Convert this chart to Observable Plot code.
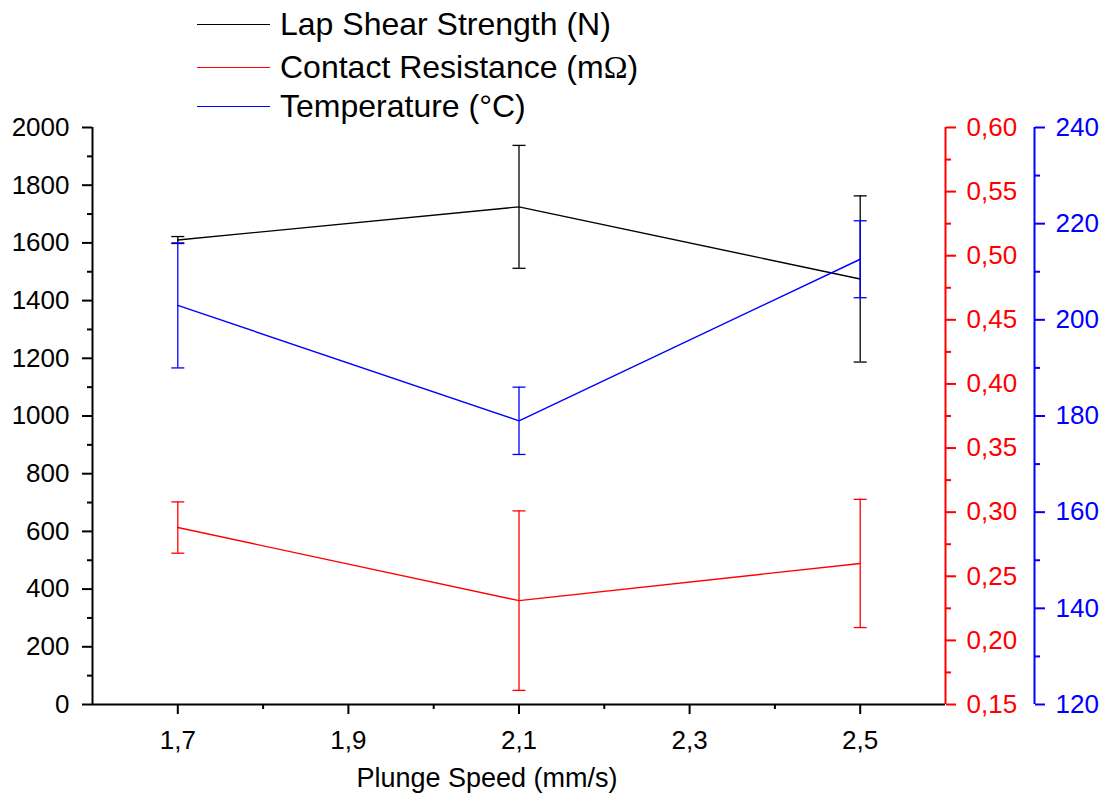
<!DOCTYPE html>
<html><head><meta charset="utf-8">
<script src="https://cdn.jsdelivr.net/npm/d3@7"></script>
<script src="https://cdn.jsdelivr.net/npm/@observablehq/plot@0.6"></script>
<style>
body{margin:0;background:#fff;font-family:"Liberation Sans",Arial,sans-serif;}
#wrap{position:relative;width:1104px;height:800px;overflow:hidden;background:#fff;}
#legend{position:absolute;left:0;top:0;width:1104px;height:130px;z-index:2;pointer-events:none;}
.row{position:absolute;left:197px;display:flex;align-items:center;font-size:32px;height:40px;color:#000;white-space:nowrap;}
.sw{width:73px;height:0;border-top:1.5px solid;margin-right:10px;}
.serif{font-family:"Liberation Serif","Times New Roman",serif;}
#chart{position:absolute;left:0;top:115px;z-index:1;}
</style></head><body>
<div id="wrap"><div id="legend"></div><div id="chart"></div></div>
<script>
// ---- data ----
const speeds = [1.7, 2.1, 2.5];
const shearMean = [1610, 1725, 1475];
const shearErr = [12, 213, 288];
const resistMean = [0.288, 0.231, 0.260];
const resistErr = [0.020, 0.070, 0.050];
const tempMean = [203, 179, 212.6];
const tempErr = [13, 7, 8];
const seriesNames = ["Lap Shear Strength (N)", "Contact Resistance (mΩ)", "Temperature (°C)"];
const seriesColors = ["#000000", "#ff0000", "#0000ff"];
const xTitle = "Plunge Speed (mm/s)";
const xTicks = [1.7, 1.9, 2.1, 2.3, 2.5];
const xMinor = [1.8, 2.0, 2.2, 2.4];
const leftTicks = [0, 200, 400, 600, 800, 1000, 1200, 1400, 1600, 1800, 2000];
const leftMinor = [100, 300, 500, 700, 900, 1100, 1300, 1500, 1700, 1900];
const redTicks = [0.15, 0.20, 0.25, 0.30, 0.35, 0.40, 0.45, 0.50, 0.55, 0.60];
const redMinor = [0.175, 0.225, 0.275, 0.325, 0.375, 0.425, 0.475, 0.525, 0.575];
const blueTicks = [120, 140, 160, 180, 200, 220, 240];
const blueMinor = [130, 150, 170, 190, 210, 230];

// ---- scales for secondary axes (mapped onto the left axis range) ----
const leftDomain = [0, 2000];
const redDomain = [0.15, 0.60];
const blueDomain = [120, 240];
const redToLeft = d3.scaleLinear(redDomain, leftDomain);
const blueToLeft = d3.scaleLinear(blueDomain, leftDomain);
const ident = d3.scaleLinear(leftDomain, leftDomain);

const loc = d3.formatLocale({decimal: ",", thousands: "", grouping: [3], currency: ["", ""]});
const f1 = loc.format(".1f"), f2 = loc.format(".2f"), f0 = loc.format(".0f");

const series = [
  {mean: shearMean, err: shearErr, conv: ident},
  {mean: resistMean, err: resistErr, conv: redToLeft},
  {mean: tempMean, err: tempErr, conv: blueToLeft}
].map((s, i) => ({
  name: seriesNames[i], color: seriesColors[i],
  rows: speeds.map((x, j) => ({
    x,
    y: s.conv(s.mean[j]),
    y1: s.conv(s.mean[j] - s.err[j]),
    y2: s.conv(s.mean[j] + s.err[j])
  }))
}));

// legend
const legend = document.getElementById("legend");
const rowCenters = [24, 67, 106];
series.forEach((s, i) => {
  const r = document.createElement("div");
  r.className = "row";
  r.style.top = (rowCenters[i] - 20) + "px";
  const sw = document.createElement("span");
  sw.className = "sw";
  sw.style.borderTopColor = s.color;
  r.appendChild(sw);
  const t = document.createElement("span");
  t.innerHTML = s.name.replace("Ω", '<span class="serif">Ω</span>');
  r.appendChild(t);
  legend.appendChild(r);
});

const capSymbol = {
  draw(context, size) {
    const w = Math.sqrt(size / Math.PI);
    context.moveTo(-w, 0);
    context.lineTo(w, 0);
  }
};

const marks = [];
series.forEach(s => {
  marks.push(Plot.ruleX(s.rows, {x: "x", y1: "y1", y2: "y2", stroke: s.color, strokeWidth: 1.3}));
  marks.push(Plot.dot(s.rows, {x: "x", y: "y1", symbol: capSymbol, r: 6.5, stroke: s.color, strokeWidth: 1.3, fill: "none"}));
  marks.push(Plot.dot(s.rows, {x: "x", y: "y2", symbol: capSymbol, r: 6.5, stroke: s.color, strokeWidth: 1.3, fill: "none"}));
  marks.push(Plot.line(s.rows, {x: "x", y: "y", stroke: s.color, strokeWidth: 1.4}));
});

const chart = Plot.plot({
  width: 1104,
  height: 685,
  marginLeft: 92,
  marginRight: 159,
  marginTop: 12,
  marginBottom: 96,
  style: {fontFamily: "'Liberation Sans', Arial, sans-serif", background: "transparent", overflow: "visible"},
  x: {domain: [1.6, 2.6], label: null},
  y: {domain: leftDomain, label: null},
  marks: [
    // axis lines
    Plot.ruleY([leftDomain[0]], {stroke: "#000", strokeWidth: 2}),
    Plot.ruleX([1.6], {stroke: "#000", strokeWidth: 2}),
    Plot.ruleX([2.6], {stroke: seriesColors[1], strokeWidth: 2}),
    Plot.ruleX([2.6], {stroke: seriesColors[2], strokeWidth: 2, dx: 89}),
    // x axis
    Plot.axisX(xTicks, {tickSize: 10, tickPadding: 16, strokeWidth: 2, fontSize: 26, tickFormat: f1, label: null}),
    Plot.axisX(xMinor, {tickSize: 5, strokeWidth: 2, tickFormat: () => "", label: null}),
    // left axis
    Plot.axisY(leftTicks, {anchor: "left", tickSize: 10, tickPadding: 13, strokeWidth: 2, fontSize: 26, tickFormat: f0, label: null}),
    Plot.axisY(leftMinor, {anchor: "left", tickSize: 5, strokeWidth: 2, tickFormat: () => "", label: null}),
    // red axis
    Plot.axisY(redTicks.map(redToLeft), {anchor: "right", color: seriesColors[1], tickSize: 10, tickPadding: 11, strokeWidth: 2, fontSize: 26, tickFormat: v => f2(redToLeft.invert(v)), label: null}),
    Plot.axisY(redMinor.map(redToLeft), {anchor: "right", color: seriesColors[1], tickSize: 5, strokeWidth: 2, tickFormat: () => "", label: null}),
    // blue axis
    Plot.axisY(blueTicks.map(blueToLeft), {anchor: "right", dx: 89, color: seriesColors[2], tickSize: 10, tickPadding: 11, strokeWidth: 2, fontSize: 26, tickFormat: v => f0(blueToLeft.invert(v)), label: null}),
    Plot.axisY(blueMinor.map(blueToLeft), {anchor: "right", dx: 89, color: seriesColors[2], tickSize: 5, strokeWidth: 2, tickFormat: () => "", label: null}),
    ...marks,
    Plot.text([xTitle], {text: d => d, frameAnchor: "bottom", dy: 82, dx: -32, fontSize: 27, fill: "#000"})
  ]
});
document.getElementById("chart").appendChild(chart);
</script>
</body></html>
